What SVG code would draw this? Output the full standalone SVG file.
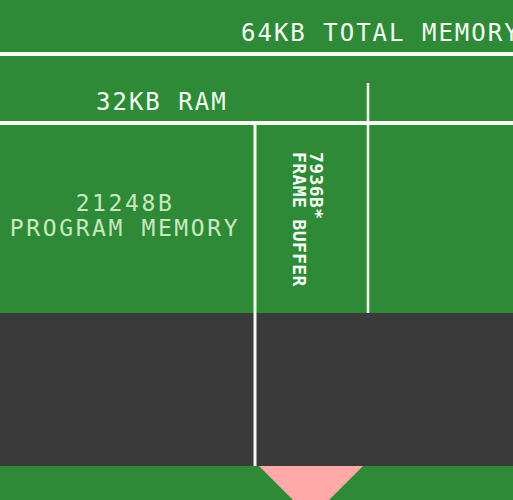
<svg xmlns="http://www.w3.org/2000/svg" width="513" height="500" viewBox="0 0 513 500">
  <style>
    .lbl { font-family: "DejaVu Sans Mono", "Liberation Mono", monospace; fill: #f4fbf2; }
    .big { font-size: 24px; letter-spacing: 2px; }
    .mid { font-size: 23px; letter-spacing: 2.6px; }
    .pale { fill: #c6e9bf; }
    .vert { font-size: 18px; letter-spacing: 0.4px; font-weight: bold; }
    .div { stroke: #f4fbf2; fill: none; }
  </style>
  <rect id="background" x="0" y="0" width="513" height="500" fill="#2e8a37"/>
  <g id="empty-region">
    <rect x="0" y="313" width="513" height="153" fill="#3a3a3a"/>
  </g>
  <g id="pointer">
    <polygon points="259,466 363,466 311,518" fill="#ffaaa8"/>
  </g>
  <g id="dividers">
    <line class="div" x1="0" y1="54" x2="513" y2="54" stroke-width="4"/>
    <line class="div" x1="0" y1="123" x2="513" y2="123" stroke-width="4"/>
    <line class="div" x1="368" y1="83" x2="368" y2="313" stroke-width="2.5"/>
    <line class="div" x1="255" y1="123" x2="255" y2="466" stroke-width="3"/>
  </g>
  <g id="total-memory">
    <text class="lbl big" x="241" y="41">64KB TOTAL MEMORY</text>
  </g>
  <g id="ram">
    <text class="lbl big" x="96" y="110">32KB RAM</text>
  </g>
  <g id="program-memory">
    <text class="lbl mid pale" x="125" y="211" text-anchor="middle">21248B</text>
    <text class="lbl mid pale" x="125" y="236" text-anchor="middle">PROGRAM MEMORY</text>
  </g>
  <g id="frame-buffer">
    <text class="lbl vert" transform="translate(310,152) rotate(90)" x="0" y="0">7936B*</text>
    <text class="lbl vert" transform="translate(293.3,152) rotate(90)" x="0" y="0">FRAME BUFFER</text>
  </g>
</svg>
